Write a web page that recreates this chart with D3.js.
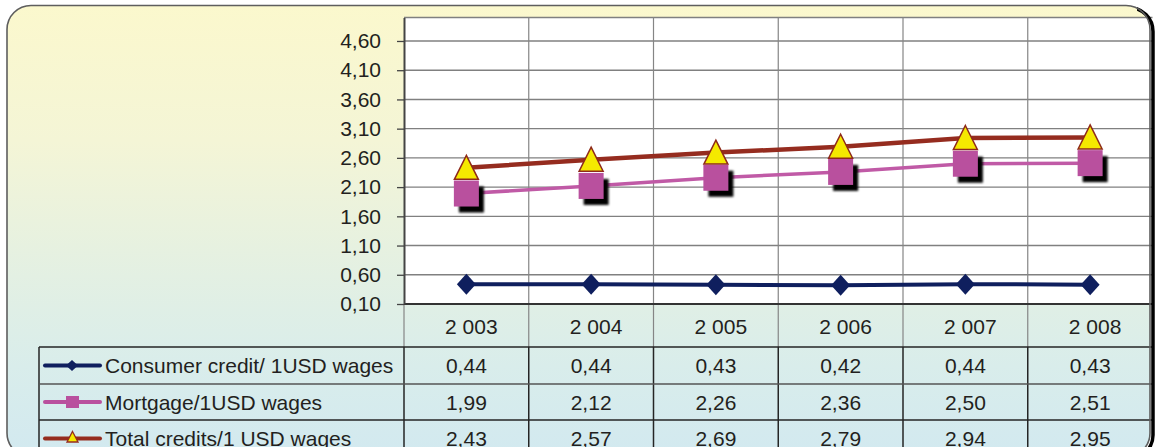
<!DOCTYPE html>
<html><head><meta charset="utf-8">
<script src="https://cdn.jsdelivr.net/npm/d3@7"></script>
<style>
html,body{margin:0;padding:0;background:#fff;}
svg{display:block;}
text{font-family:"Liberation Sans",Arial,sans-serif;fill:#231f20;}
</style>
</head><body>
<svg id="c" width="1156" height="447"></svg>
<script>
const years = ["2 003","2 004","2 005","2 006","2 007","2 008"];
const seriesNames = ["Consumer credit/ 1USD wages","Mortgage/1USD wages","Total credits/1 USD wages"];
const consumer = [0.44,0.44,0.43,0.42,0.44,0.43];
const mortgage = [1.99,2.12,2.26,2.36,2.50,2.51];
const total = [2.43,2.57,2.69,2.79,2.94,2.95];
const yTicks = [0.10,0.60,1.10,1.60,2.10,2.60,3.10,3.60,4.10,4.60];
const seriesColors = ["#0f1f5e","#b9509e","#952c1f"];

(function(){
const loc = d3.formatLocale({decimal:",", thousands:" ", grouping:[3], currency:["",""]});
const fmt = loc.format(".2f");

const svg = d3.select("#c");
const defs = svg.append("defs");
const grad = defs.append("linearGradient").attr("id","bg")
  .attr("gradientUnits","userSpaceOnUse").attr("x1",0).attr("y1",5).attr("x2",0).attr("y2",457);
[[0,"#fbf8cd"],[0.3,"#f4f5d6"],[0.6,"#e3f0e3"],[0.8,"#d9edeb"],[1,"#d2e9f0"]]
  .forEach(([o,c])=>grad.append("stop").attr("offset",o).attr("stop-color",c));
const blur = defs.append("filter").attr("id","blur").attr("x","-20%").attr("y","-20%").attr("width","140%").attr("height","140%");
blur.append("feGaussianBlur").attr("stdDeviation",0.8);
defs.append("clipPath").attr("id","rclip").append("rect").attr("x",1137).attr("y",0).attr("width",30).attr("height",460);

svg.append("rect").attr("x",7).attr("y",5.5).attr("width",1143).attr("height",451.5).attr("rx",24)
  .attr("fill","url(#bg)");

const pL = 404, pR = 1152.5, pT = 17.6, pB = 304;
const x = d3.scaleBand().domain(years).range([pL,pR]);
const y = d3.scaleLinear().domain([0.1,5.0]).range([pB,pT]);
const cx = d => x(d) + x.bandwidth()/2;

svg.append("rect").attr("x",pL).attr("y",pT).attr("width",pR-pL).attr("height",pB-pT).attr("fill","#fff");
svg.append("g").selectAll("line").data(yTicks.slice(1)).join("line")
  .attr("x1",pL).attr("x2",pR).attr("y1",d=>y(d)).attr("y2",d=>y(d))
  .attr("stroke","#808080").attr("stroke-width",1.4);
svg.append("line").attr("x1",pL).attr("x2",pR).attr("y1",pT).attr("y2",pT)
  .attr("stroke","#808080").attr("stroke-width",1.5);

const rowTops = [347,384,420];
const rowBottom = 457;
const tableLeft = 39;

const bounds = years.slice(1).map(d=>x(d));
svg.append("g").selectAll("line").data(bounds).join("line")
  .attr("x1",d=>d).attr("x2",d=>d).attr("y1",pT).attr("y2",rowTops[0])
  .attr("stroke","#858585").attr("stroke-width",1.2);
svg.append("g").selectAll("line").data([tableLeft,pL].concat(bounds)).join("line")
  .attr("x1",d=>d).attr("x2",d=>d).attr("y1",rowTops[0]).attr("y2",rowBottom)
  .attr("stroke","#252525").attr("stroke-width",1.5);
svg.append("line").attr("x1",pL).attr("x2",pL).attr("y1",pB).attr("y2",rowTops[0])
  .attr("stroke","#858585").attr("stroke-width",1.2);
svg.append("g").selectAll("line").data(rowTops).join("line")
  .attr("x1",tableLeft).attr("x2",pR).attr("y1",d=>d).attr("y2",d=>d)
  .attr("stroke",(d,i)=>i===1?"#555":"#252525").attr("stroke-width",1.5);

svg.append("line").attr("x1",pL).attr("x2",pR).attr("y1",pB).attr("y2",pB)
  .attr("stroke","#333").attr("stroke-width",2);

const ya = svg.append("g").attr("transform",`translate(${pL},0)`)
  .call(d3.axisLeft(y).tickValues(yTicks).tickSize(7).tickSizeOuter(0).tickPadding(16).tickFormat(fmt));
ya.select(".domain").attr("stroke","#444").attr("stroke-width",2);
ya.selectAll(".tick line").attr("stroke","#444").attr("stroke-width",1.3);
ya.selectAll(".tick text").style("font-size","21px").attr("fill","#231f20")
  .style("font-family",'"Liberation Sans",Arial,sans-serif');

svg.append("g").selectAll("text").data(years).join("text")
  .attr("x",d=>cx(d)+5).attr("y",334).attr("text-anchor","middle")
  .style("font-size","21px").text(d=>d);

const allSeries = [consumer, mortgage, total];
allSeries.forEach((vals,si)=>{
  const base = (rowTops[si] + (rowTops[si+1]||rowBottom))/2 + 7.5;
  svg.append("g").selectAll("text").data(vals).join("text")
    .attr("x",(d,i)=>cx(years[i])).attr("y",base).attr("text-anchor","middle")
    .style("font-size","21px").text(d=>fmt(d));
  svg.append("text").attr("x",105).attr("y",base).style("font-size","21px").text(seriesNames[si]);
});

const legMid = rowTops.map((t,i)=>(t + (rowTops[i+1]||rowBottom))/2);
legMid.forEach((m,i)=>{
  svg.append("line").attr("x1",45).attr("x2",100).attr("y1",m).attr("y2",m)
    .attr("stroke",seriesColors[i]).attr("stroke-width",4).attr("stroke-linecap","round");
});
svg.append("path").attr("d",`M72,${legMid[0]-5.5}L78,${legMid[0]}L72,${legMid[0]+5.5}L66,${legMid[0]}Z`).attr("fill",seriesColors[0]);
svg.append("rect").attr("x",66).attr("y",legMid[1]-6).attr("width",13).attr("height",12).attr("fill",seriesColors[1]);
svg.append("path").attr("d",`M72.5,${legMid[2]-7}L78,${legMid[2]+3.5}L67,${legMid[2]+3.5}Z`)
  .attr("fill","#f5e900").attr("stroke",seriesColors[2]).attr("stroke-width",1.3);

const line = d3.line().x((d,i)=>cx(years[i])).y(d=>y(d));
svg.append("path").datum(consumer).attr("d",line).attr("fill","none").attr("stroke",seriesColors[0]).attr("stroke-width",4);
svg.append("g").selectAll("path").data(consumer).join("path")
  .attr("d",(d,i)=>{const px=cx(years[i]),py=y(d);return `M${px},${py-10.5}L${px+9.5},${py}L${px},${py+10.5}L${px-9.5},${py}Z`;})
  .attr("fill",seriesColors[0]);
svg.append("path").datum(mortgage).attr("d",line).attr("fill","none").attr("stroke","#c05aa6").attr("stroke-width",3.5);
const mg = svg.append("g");
mortgage.forEach((d,i)=>{
  const px=cx(years[i]), py=y(d);
  mg.append("rect").attr("x",px-12.5+5).attr("y",py-13+6).attr("width",25).attr("height",26)
    .attr("fill","#000").attr("filter","url(#blur)");
  mg.append("rect").attr("x",px-12.5).attr("y",py-13).attr("width",25).attr("height",26)
    .attr("fill",seriesColors[1]);
});
svg.append("path").datum(total).attr("d",line).attr("fill","none").attr("stroke",seriesColors[2]).attr("stroke-width",4.5);
svg.append("g").selectAll("path").data(total).join("path")
  .attr("d",(d,i)=>{const px=cx(years[i]),py=y(d);return `M${px},${py-12.5}L${px+12},${py+11.5}L${px-12},${py+11.5}Z`;})
  .attr("fill","#f5e900").attr("stroke","#8e2a1a").attr("stroke-width",1.5).attr("stroke-linejoin","miter");

svg.append("rect").attr("x",10).attr("y",7.5).attr("width",1143).attr("height",451.5).attr("rx",24)
  .attr("fill","none").attr("stroke","#000").attr("stroke-width",3.5).attr("clip-path","url(#rclip)");
svg.append("rect").attr("x",7).attr("y",5.5).attr("width",1143).attr("height",451.5).attr("rx",24)
  .attr("fill","none").attr("stroke","#5e5e5e").attr("stroke-width",1.6);
})();
</script>
</body></html>
